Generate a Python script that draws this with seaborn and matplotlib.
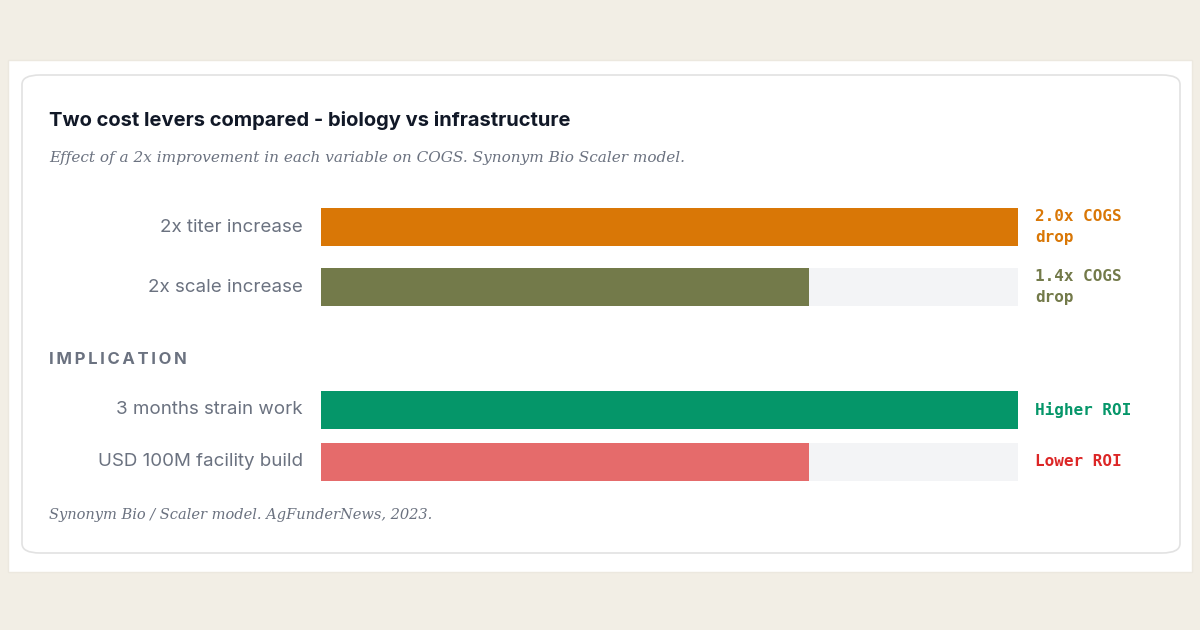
import matplotlib.pyplot as plt
import seaborn as sns
import pandas as pd
from matplotlib.patches import FancyBboxPatch

sns.set_style('white')
plt.rcParams['font.family'] = ['Inter', 'DejaVu Sans']

levers = ['2x titer increase', '2x scale increase']
cogs_drop = [2.0, 1.4]
lever_labels = ['2.0x COGS\ndrop', '1.4x COGS\ndrop']
lever_colors = ['#d97706', '#737a4a']

options = ['3 months strain work', 'USD 100M facility build']
roi_score = [100, 70]
roi_labels = ['Higher ROI', 'Lower ROI']
roi_colors = ['#059669', '#e56b6b']
roi_text_colors = ['#059669', '#dc2626']

W, H = 1200, 630
fig = plt.figure(figsize=(12, 6.3), dpi=100)
fig.patch.set_facecolor('#f2eee5')

def fx(x): return x / W
def fy(y): return 1 - y / H

# card
fig.patches.append(FancyBboxPatch((fx(8), fy(572)), fx(1184), 512 / H, boxstyle='square,pad=0',
                                  transform=fig.transFigure, fc='white', ec='#ece8df', lw=1, zorder=-2))
fig.patches.append(FancyBboxPatch((fx(22), fy(553)), fx(1158), 478 / H,
                                  boxstyle='round,pad=0,rounding_size=0.015',
                                  transform=fig.transFigure, fc='white', ec='#e2e2e2', lw=1.2, zorder=-1))

fig.text(fx(49), fy(120), 'Two cost levers compared - biology vs infrastructure', fontsize=14.5,
         fontweight='bold', color='#111827', va='center')
fig.text(fx(49), fy(158), 'Effect of a 2x improvement in each variable on COGS. Synonym Bio Scaler model.',
         fontsize=11, style='italic', family='DejaVu Serif', color='#6b7280', va='center')
fig.text(fx(49), fy(360), 'I M P L I C A T I O N'.replace(' ', '\u2009'), fontsize=12, fontweight='bold',
         color='#6b7280', va='center')
fig.text(fx(49), fy(515), 'Synonym Bio / Scaler model. AgFunderNews, 2023.', fontsize=10.5,
         style='italic', family='DejaVu Serif', color='#6b7280', va='center')

def panel(top, bottom, names, vals, vmax, colors, labels, text_colors, width):
    ax = fig.add_axes([fx(321), fy(bottom), fx(1018 - 321), (bottom - top) / H])
    ax.set_zorder(2)
    ax.patch.set_alpha(0)
    df = pd.DataFrame({'name': names, 'val': vals})
    sns.barplot(data=pd.DataFrame({'name': names, 'val': [vmax] * len(names)}), x='val', y='name',
                color='#f3f4f6', width=width, ax=ax, orient='h', saturation=1)
    sns.barplot(data=df, x='val', y='name', hue='name', palette=colors, width=width, ax=ax,
                orient='h', legend=False, saturation=1)
    for p in ax.patches:
        p.set_linewidth(0)
    ax.set_xlim(0, vmax)
    ax.axis('off')
    for i, (n, lab, c) in enumerate(zip(names, labels, text_colors)):
        ax.text(-0.026 * vmax, i, n, ha='right', va='center', fontsize=13.5, color='#6b7280')
        ax.text(1.025 * vmax, i, lab, ha='left', va='center', fontsize=11.5, color=c,
                family='DejaVu Sans Mono', fontweight='bold', linespacing=1.55)
    return ax

panel(197, 317, levers, cogs_drop, 2.0, lever_colors, lever_labels, lever_colors, 38 / 60)
panel(384, 488, options, roi_score, 100, roi_colors, roi_labels, roi_text_colors, 38 / 52)

fig.savefig('out.png', dpi=100, facecolor=fig.get_facecolor())
